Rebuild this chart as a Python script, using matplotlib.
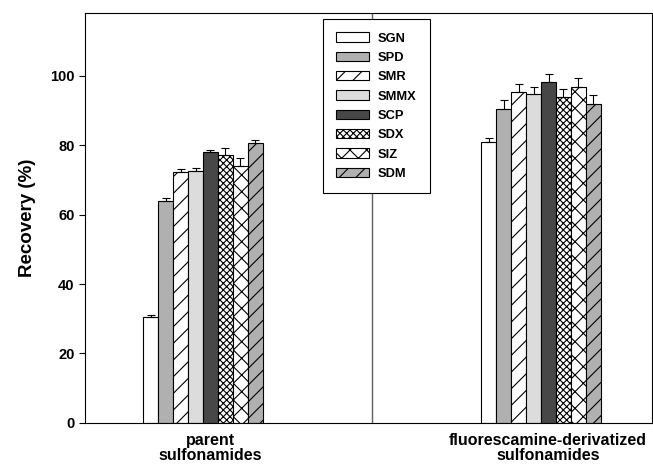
import numpy as np
import matplotlib.pyplot as plt
from matplotlib.transforms import ScaledTranslation

plt.rcParams["font.family"] = ["Liberation Sans", "DejaVu Sans"]
plt.rcParams["font.weight"] = "bold"
plt.rcParams["hatch.linewidth"] = 0.8

# -----------------------------------------------------
# Data
# -----------------------------------------------------

groups = ["parent\nsulfonamides", "fluorescamine-derivatized\nsulfonamides"]
drugs = ["SGN", "SPD", "SMR", "SMMX", "SCP", "SDX", "SIZ", "SDM"]

parent_mean = [30.4, 63.8, 72.3, 72.6, 78.1, 77.1, 74.1, 80.6]
parent_err = [0.7, 0.9, 0.8, 0.7, 0.6, 2.1, 2.1, 0.8]

deriv_mean = [81.0, 90.4, 95.2, 94.6, 98.2, 93.7, 96.7, 91.9]
deriv_err = [0.9, 2.5, 2.4, 2.1, 2.2, 2.5, 2.5, 2.6]

# fill colour and hatch for each sulfonamide
fills = ["white", "#b0b0b0", "white", "#dcdcdc", "#474747", "white", "white", "#b0b0b0"]
hatches = [None, None, "//", None, None, "xxxxx", "xx", "//"]

means = np.array([parent_mean, deriv_mean])
errs = np.array([parent_err, deriv_err])

# -----------------------------------------------------
# Plot
# -----------------------------------------------------

fig = plt.figure(figsize=(6.53, 4.66), dpi=100)
ax = fig.add_axes([0.1302, 0.0923, 0.8683, 0.8798])

x = np.arange(len(groups))
width = 0.0441
offsets = (np.arange(len(drugs)) - (len(drugs) - 1) / 2) * width

ax.axvline(0.5, color="#606060", linewidth=1.0, zorder=1)

for i, name in enumerate(drugs):
    ax.bar(
        x + offsets[i],
        means[:, i],
        width,
        color=fills[i],
        edgecolor="black",
        linewidth=0.8,
        hatch=hatches[i],
        label=name,
        zorder=2,
    )
    ax.errorbar(
        x + offsets[i],
        means[:, i],
        yerr=[np.zeros(len(groups)), errs[:, i]],
        fmt="none",
        ecolor="black",
        elinewidth=0.8,
        capsize=3,
        capthick=0.8,
        zorder=3,
    )

ax.set_xlim(-0.349, 1.328)
ax.set_ylim(0, 118)

ax.set_yticks([0, 20, 40, 60, 80, 100])
ax.tick_params(axis="y", direction="out", length=4, width=0.8, pad=3.5, labelsize=10.5)
ax.set_xticks(x)
ax.set_xticklabels(groups, fontsize=11.5, fontweight="bold", linespacing=1.05)
ax.tick_params(axis="x", length=0, pad=7)

# nudge the group labels a little to the right
shift = ScaledTranslation(0.07, 0, fig.dpi_scale_trans)
for lbl in ax.get_xticklabels():
    lbl.set_transform(lbl.get_transform() + shift)

ax.set_ylabel("Recovery (%)", fontsize=13.5, fontweight="bold", labelpad=10)

for s in ax.spines.values():
    s.set_linewidth(0.8)

leg = ax.legend(
    loc="upper center",
    bbox_to_anchor=(0.514, 0.986),
    fancybox=False,
    edgecolor="black",
    framealpha=1,
    fontsize=9.3,
    handlelength=2.5,
    handleheight=0.75,
    labelspacing=0.55,
    borderpad=1.05,
    handletextpad=0.7,
    borderaxespad=0,
)
leg.get_frame().set_linewidth(0.8)
leg.set_zorder(5)

plt.savefig("out.png", dpi=100)
plt.close()
